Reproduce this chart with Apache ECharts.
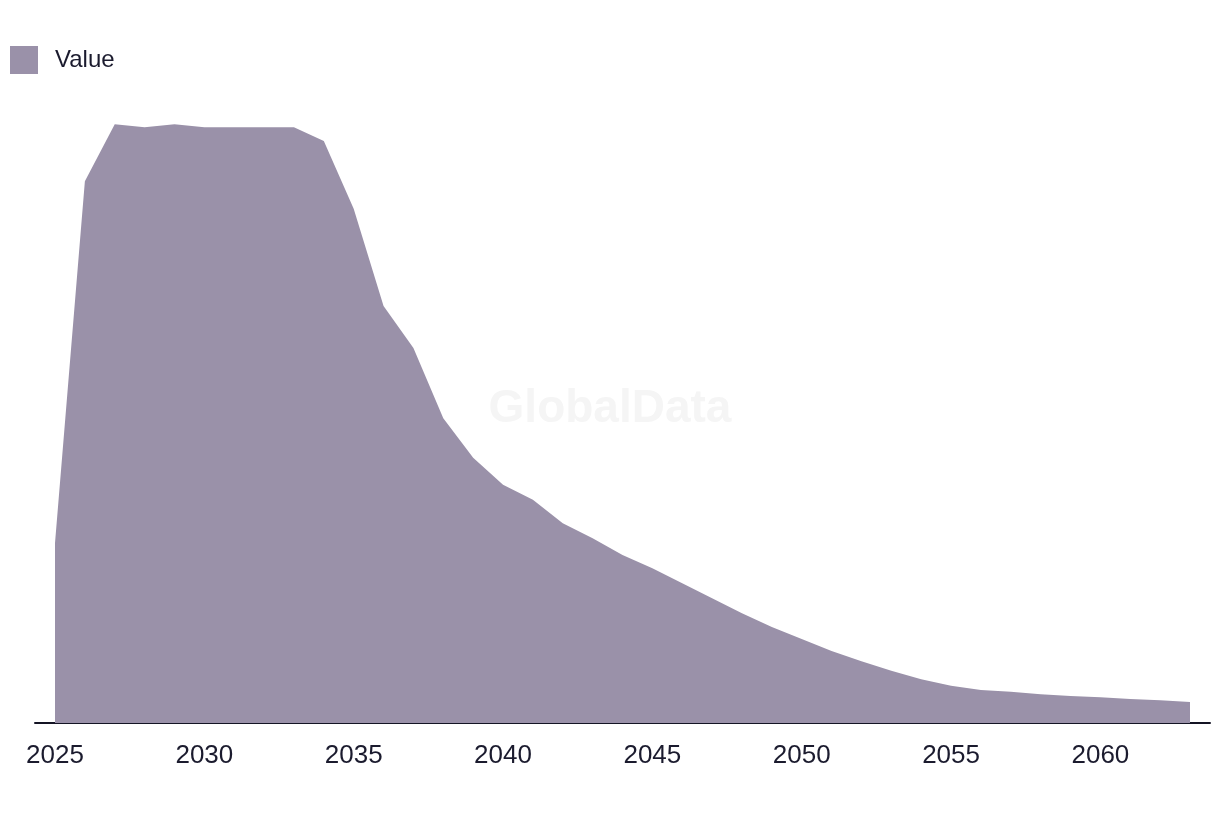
<!DOCTYPE html>
<html>
<head>
<meta charset="utf-8">
<script src="https://cdn.jsdelivr.net/npm/echarts@6/dist/echarts.min.js"></script>
<style>
html,body{margin:0;padding:0;background:#fff;}
#chart{width:1220px;height:816px;}
</style>
</head>
<body>
<div id="chart"></div>
<script>
const years = [2025,2026,2027,2028,2029,2030,2031,2032,2033,2034,2035,2036,2037,2038,2039,2040,2041,2042,2043,2044,2045,2046,2047,2048,2049,2050,2051,2052,2053,2054,2055,2056,2057,2058,2059,2060,2061,2062,2063];
const values = [30.0,90.3,99.8,99.3,99.8,99.3,99.3,99.3,99.3,97.0,85.7,69.5,62.5,50.8,44.2,39.7,37.2,33.3,30.8,28.0,25.8,23.3,20.8,18.3,16.0,14.0,12.0,10.3,8.7,7.3,6.2,5.5,5.2,4.8,4.5,4.3,4.0,3.8,3.5];
const tickLabels = [2025,2030,2035,2040,2045,2050,2055,2060];
const seriesName = 'Value';

const chart = echarts.init(document.getElementById('chart'), null, {renderer:'canvas'});
const font = '"Liberation Sans", Arial, sans-serif';
chart.setOption({
  animation: false,
  backgroundColor: '#ffffff',
  graphic: [{
    type: 'text', left: 'center', top: 386, z: 0,
    style: { text: 'GlobalData', fill: '#f5f5f5', font: 'bold 46px ' + font }
  }],
  legend: {
    left: 5, top: 41, itemWidth: 28, itemHeight: 28, icon: 'rect',
    textStyle: { fontFamily: font, fontSize: 24, color: '#1b1b2e', padding: [0,0,0,12] },
    data: [seriesName]
  },
  grid: { left: 35, right: 10, top: 123, bottom: 93, containLabel: false },
  xAxis: {
    type: 'value', min: 2024.33, max: 2063.67,
    axisLine: { show: true, lineStyle: { color: '#141424', width: 2 } },
    axisTick: { show: false },
    splitLine: { show: false },
    axisLabel: {
      customValues: tickLabels, margin: 20,
      fontFamily: font, fontSize: 26, color: '#1b1b2e',
      formatter: v => String(v)
    }
  },
  yAxis: { type: 'value', min: 0, max: 100, show: false, splitLine: { show: false } },
  series: [{
    name: seriesName, type: 'line', showSymbol: false, symbol: 'none',
    data: years.map((y, i) => [y, values[i]]),
    lineStyle: { width: 0, color: '#9a91a9' },
    itemStyle: { color: '#9a91a9' },
    areaStyle: { color: '#9a91a9', opacity: 1 },
    z: 2
  }]
});
</script>
</body>
</html>
